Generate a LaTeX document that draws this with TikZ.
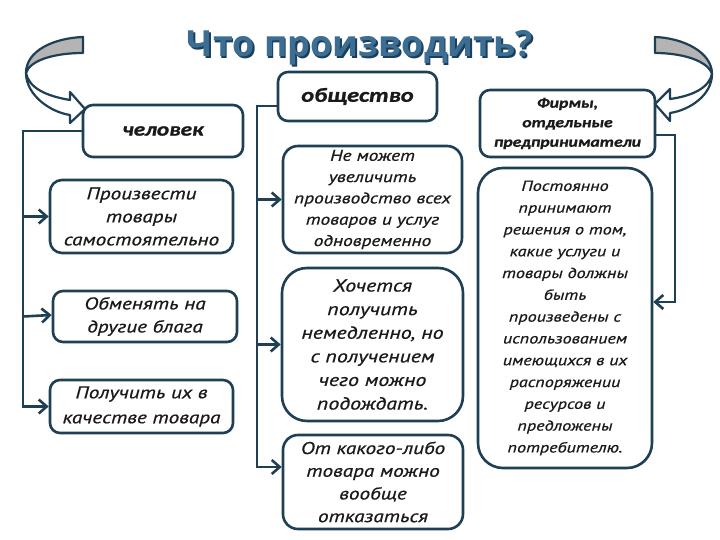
\documentclass[tikz,border=0pt]{standalone}
\usepackage{fontspec}
\usetikzlibrary{arrows.meta,calc}
\newfontfamily\boxfont{PT Sans}[FakeStretch=1.25,FakeBold=0.7]
\newfontfamily\headfont{Carlito}[FakeStretch=1.22,FakeBold=1.2]
\newfontfamily\ttlfont{Open Sans}
\definecolor{navy}{HTML}{1F3F55}
\definecolor{ttlblue}{HTML}{3B6E92}
\definecolor{ttldark}{HTML}{1B3F5A}
\definecolor{ink}{HTML}{1A1A1A}
\definecolor{bandgrey}{HTML}{B4B4B4}
\begin{document}
\begin{tikzpicture}[x=1pt,y=-1pt,
  box/.style={draw=navy,line width=2.6pt,rounded corners=10pt,fill=white,inner sep=0pt,align=center,text=ink},
  conn/.style={draw=navy,line width=2.6pt},
  arr/.style={conn,-{Straight Barb[length=8pt,width=14pt]}},
  fs/.style 2 args={font=\boxfont\itshape\fontsize{#1}{#2}\selectfont},
  fb/.style 2 args={font=\headfont\bfseries\itshape\fontsize{#1}{#2}\selectfont},
  ttl/.style={font=\ttlfont\bfseries\fontsize{36}{40}\selectfont,anchor=base},
  band/.style={draw=navy,line width=2.2pt,line join=round}]
\useasboundingbox[fill=white] (0,0) rectangle (720,540);

% title
\node[ttl,text=ttldark] (ttlsh) at (361.3,58.3) {Что производить?};
\node[ttl,text=ttlblue] (ttl) at (360,57) {Что производить?};

% curved arrows
\filldraw[band,fill=bandgrey] (83,37) .. controls (55,38) and (26,50) .. (26,73)
   .. controls (30,60) and (55,53) .. (83,53) -- cycle;
\filldraw[band,fill=white] (26,73) .. controls (26,95) and (50,112) .. (70,115)
   -- (70,123) -- (85,109) -- (70,92) -- (70,100)
   .. controls (46,96) and (29,88) .. (26,73) -- cycle;

\filldraw[band,fill=bandgrey] (655,37) .. controls (683,38) and (712,52) .. (712,74)
   .. controls (708,61) and (683,53) .. (655,53) -- cycle;
\filldraw[band,fill=white] (712,74) .. controls (712,95) and (690,110) .. (670,113)
   -- (670,121) -- (655,104) -- (670,89) -- (670,99)
   .. controls (692,96) and (709,88) .. (712,74) -- cycle;

% header boxes
\node[box,minimum width=160pt,minimum height=52pt,fb={19}{23}] (chel) at (163,131) {человек};
\node[box,minimum width=159pt,minimum height=49pt,fb={20}{24}] (obsh) at (357.5,96.5) {общество};
\node[box,minimum width=175pt,minimum height=67pt,fb={14.5}{19.5}] (firm) at (567.5,123.5)
  {Фирмы,\\отдельные\\предприниматели};

% left column
\node[box,rounded corners=12pt,minimum width=183pt,minimum height=73pt,fs={17}{23}] (proizv) at (141.5,216.5)
  {Произвести\\товары\\самостоятельно};
\node[box,minimum width=184pt,minimum height=51pt,fs={17}{23}] (obmen) at (145,316.5)
  {Обменять на\\другие блага};
\node[box,minimum width=183pt,minimum height=53pt,fs={17}{25}] (poluch) at (141.5,406.5)
  {Получить их в\\качестве товара};

% middle column
\node[box,rounded corners=15pt,minimum width=179pt,minimum height=107pt,fs={15.5}{21.3}] (nemozh) at (372.5,199.5)
  {Не может\\увеличить\\производство всех\\товаров и услуг\\одновременно};
\node[box,rounded corners=25pt,minimum width=181pt,minimum height=153pt,fs={17.5}{23.6}] (hochet) at (372.5,344.5)
  {Хочется\\получить\\немедленно, но\\с получением\\чего можно\\подождать.};
\node[box,rounded corners=15pt,minimum width=180pt,minimum height=94pt,fs={17}{22.7}] (otkak) at (373,482)
  {От какого-либо\\товара можно\\вообще\\отказаться};

% right column
\node[box,rounded corners=25pt,minimum width=174pt,minimum height=300pt,fs={14.5}{21.8}] (postoyan) at (565,318)
  {Постоянно\\принимают\\решения о том,\\какие услуги и\\товары должны\\быть\\произведены с\\использованием\\имеющихся в их\\распоряжении\\ресурсов и\\предложены\\потребителю.};

% connectors
\coordinate (lbus) at (23,0);
\coordinate (mbus) at (257,0);
\coordinate (rbus) at (675,0);
\draw[arr] (chel.west) -| (lbus |- poluch.west) -- (poluch.west);
\draw[arr] (lbus |- proizv.west) -- (proizv.west);
\draw[arr] (lbus |- obmen.west) -- ([yshift=1.5pt]obmen.west);

\coordinate (otin) at ([yshift=15pt]otkak.west);
\draw[arr] ([yshift=-9.5pt]obsh.west) -| (mbus |- otin) -- (otin);
\draw[arr] (mbus |- nemozh.west) -- (nemozh.west);
\draw[arr] (mbus |- hochet.west) -- (hochet.west);

\coordinate (pin) at ([yshift=16pt]postoyan.east);
\draw[arr] ([yshift=-11.5pt]firm.east) -| (rbus |- pin) -- (pin);
\end{tikzpicture}
\end{document}
